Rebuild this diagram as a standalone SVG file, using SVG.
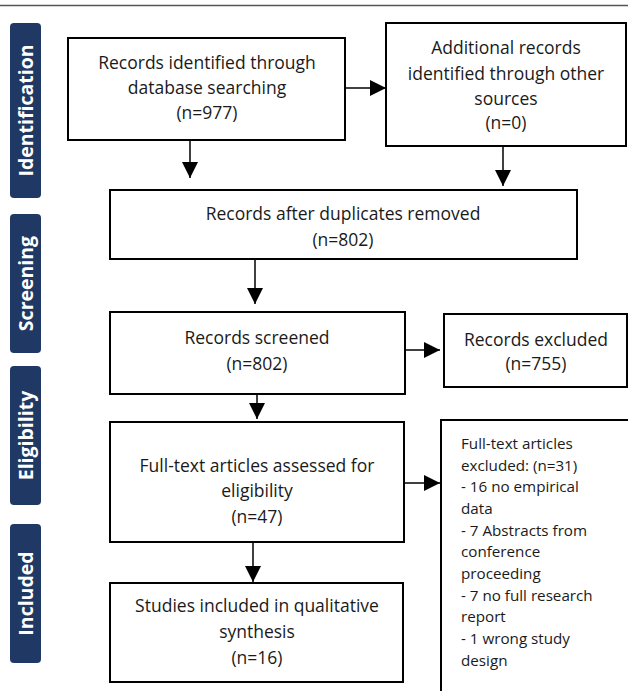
<svg xmlns="http://www.w3.org/2000/svg" width="628" height="691" viewBox="0 0 628 691">
<defs>
<marker id="ah" viewBox="0 0 10 10" refX="10" refY="5" markerWidth="16" markerHeight="16" markerUnits="userSpaceOnUse" orient="auto">
<path d="M0,0 L10,5 L0,10 Z" fill="#000"/>
</marker>
</defs>
<style>
.box{fill:#fff;stroke:#000;stroke-width:2}
.t{font-family:"Open Sans","Noto Sans",sans-serif;font-size:17.5px;fill:#1a1a1a;text-anchor:middle}
.s{font-family:"Open Sans","Noto Sans",sans-serif;font-size:15.2px;fill:#1a1a1a}
.side{fill:#1f3864}
.st{font-family:"Open Sans","Noto Sans",sans-serif;font-size:19.5px;font-weight:bold;fill:#fff;text-anchor:middle}
.c{stroke:#000;stroke-width:1.5;fill:none;marker-end:url(#ah)}
</style>
<rect width="628" height="691" fill="#fff"/>
<line x1="0" y1="5.5" x2="628" y2="5.5" stroke="#555" stroke-width="1.5"/>
<g id="lbl-identification"><rect class="side" x="10" y="23" width="31" height="175" rx="4"/><text class="st" transform="translate(32.5,110.5) rotate(-90)">Identification</text></g>
<g id="lbl-screening"><rect class="side" x="10" y="214" width="31" height="139" rx="4"/><text class="st" transform="translate(32.5,283.5) rotate(-90)">Screening</text></g>
<g id="lbl-eligibility"><rect class="side" x="10" y="366" width="31" height="139" rx="4"/><text class="st" transform="translate(32.5,435.5) rotate(-90)">Eligibility</text></g>
<g id="lbl-included"><rect class="side" x="10" y="524" width="31" height="139" rx="4"/><text class="st" transform="translate(32.5,593.5) rotate(-90)">Included</text></g>
<g id="connectors">
<line class="c" x1="345" y1="88" x2="386" y2="88"/>
<line class="c" x1="190" y1="140" x2="190" y2="178"/>
<line class="c" x1="503" y1="146" x2="503" y2="186"/>
<line class="c" x1="255" y1="259" x2="255" y2="304"/>
<line class="c" x1="405" y1="350" x2="440" y2="350"/>
<line class="c" x1="257" y1="394" x2="257" y2="419"/>
<line class="c" x1="404" y1="483" x2="440" y2="483"/>
<line class="c" x1="253" y1="542" x2="253" y2="582"/>
</g>
<g id="n1"><rect class="box" x="68" y="38" width="277" height="102"/>
<text class="t" x="207" y="69">Records identified through</text>
<text class="t" x="207" y="94">database searching</text>
<text class="t" x="207" y="119">(n=977)</text></g>
<g id="n2"><rect class="box" x="386" y="23" width="240" height="123"/>
<text class="t" x="506" y="54">Additional records</text>
<text class="t" x="506" y="80">identified through other</text>
<text class="t" x="506" y="105">sources</text>
<text class="t" x="506" y="129">(n=0)</text></g>
<g id="n3"><rect class="box" x="110" y="190" width="467" height="69"/>
<text class="t" x="343" y="220">Records after duplicates removed</text>
<text class="t" x="343" y="246">(n=802)</text></g>
<g id="n4"><rect class="box" x="110" y="312" width="295" height="82"/>
<text class="t" x="257" y="344">Records screened</text>
<text class="t" x="257" y="370">(n=802)</text></g>
<g id="n5"><rect class="box" x="444" y="314" width="183" height="73"/>
<text class="t" x="536" y="346">Records excluded</text>
<text class="t" x="536" y="370">(n=755)</text></g>
<g id="n6"><rect class="box" x="110" y="422" width="294" height="120"/>
<text class="t" x="257" y="472">Full-text articles assessed for</text>
<text class="t" x="257" y="497">eligibility</text>
<text class="t" x="257" y="523">(n=47)</text></g>
<g id="n7"><rect class="box" x="441" y="420" width="200" height="290"/>
<text class="s" x="461" y="449">Full-text articles</text>
<text class="s" x="461" y="471">excluded: (n=31)</text>
<text class="s" x="461" y="492">- 16 no empirical</text>
<text class="s" x="461" y="514">data</text>
<text class="s" x="461" y="536">- 7 Abstracts from</text>
<text class="s" x="461" y="557">conference</text>
<text class="s" x="461" y="579">proceeding</text>
<text class="s" x="461" y="601">- 7 no full research</text>
<text class="s" x="461" y="622">report</text>
<text class="s" x="461" y="644">- 1 wrong study</text>
<text class="s" x="461" y="666">design</text></g>
<g id="n8"><rect class="box" x="110" y="583" width="293" height="99"/>
<text class="t" x="257" y="612">Studies included in qualitative</text>
<text class="t" x="257" y="638">synthesis</text>
<text class="t" x="257" y="664">(n=16)</text></g>
</svg>
